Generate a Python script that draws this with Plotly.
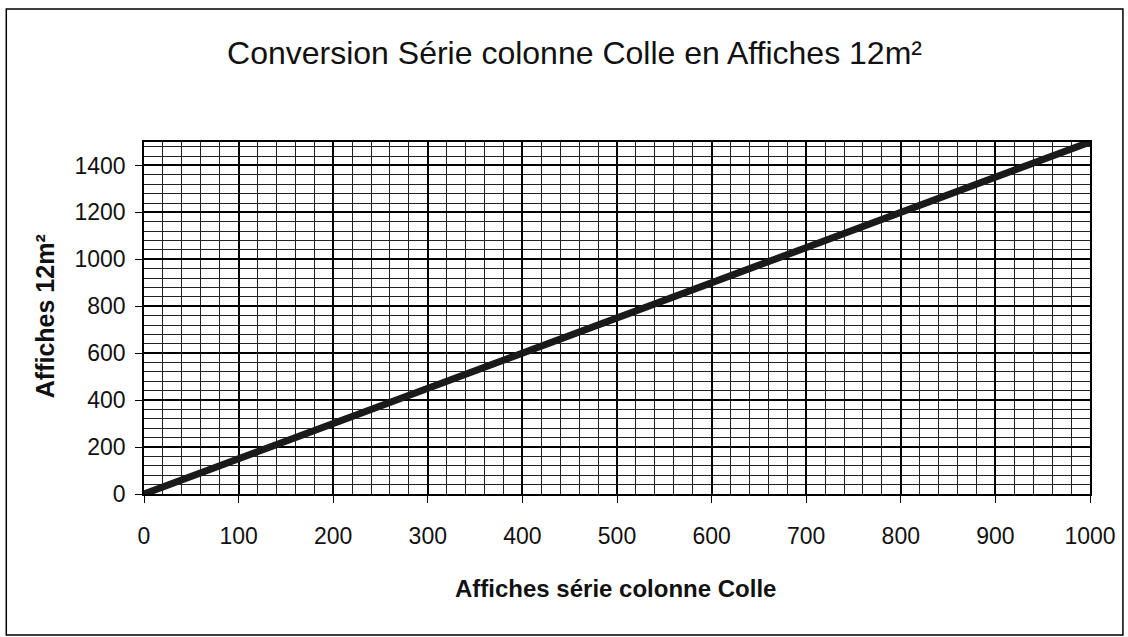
import plotly.graph_objects as go

# Conversion series: posters "série colonne Colle" -> 12 m² posters
affiches_colonne = [0, 1000]
affiches_12m2 = [0, 1500]

x_ticks = [0, 100, 200, 300, 400, 500, 600, 700, 800, 900, 1000]
y_ticks = [0, 200, 400, 600, 800, 1000, 1200, 1400]

W, H = 1128, 637
L, R, T, B = 144, 36, 142, 143
pw, ph = W - L - R, H - T - B

def px_to_paper(x, y):
    return (x - L) / pw, (H - B - y) / ph

tick_font = dict(family="Liberation Sans, Arial, sans-serif", size=23, color="#111")

fig = go.Figure()
fig.add_trace(go.Scatter(
    x=affiches_colonne, y=affiches_12m2, mode="lines",
    line=dict(color="#1a1a1a", width=7), showlegend=False,
))

fig.update_xaxes(
    range=[0, 1000], tickvals=x_ticks, ticktext=[str(v) for v in x_ticks],
    showgrid=True, gridcolor="#000", gridwidth=1.5,
    minor=dict(dtick=20, showgrid=True, gridcolor="#222", gridwidth=1),
    showline=True, linecolor="#000", linewidth=1.5, mirror=True,
    ticks="outside", ticklen=7, tickcolor="#000",
    ticklabelstandoff=14, tickfont=tick_font, zeroline=False,
)
fig.update_yaxes(
    range=[0, 1500], tickvals=y_ticks, ticktext=[str(v) for v in y_ticks],
    showgrid=True, gridcolor="#000", gridwidth=1.5,
    minor=dict(dtick=40, tick0=0, showgrid=True, gridcolor="#222", gridwidth=1),
    showline=True, linecolor="#000", linewidth=1.5, mirror=True,
    ticks="outside", ticklen=7, tickcolor="#000",
    ticklabelstandoff=5, tickfont=tick_font, zeroline=False,
)

# Outer frame of the whole chart
x0, y0 = px_to_paper(6, 9)
x1, y1 = px_to_paper(1125, 635)
fig.add_shape(type="rect", xref="paper", yref="paper",
              x0=x0, y0=y1, x1=x1, y1=y0,
              line=dict(color="#000", width=1.5), layer="above")

# Axis titles
ax, ay = px_to_paper(616, 588)
fig.add_annotation(x=ax, y=ay, xref="paper", yref="paper", showarrow=False,
                   text="<b>Affiches série colonne Colle</b>",
                   font=dict(family="Liberation Sans, Arial, sans-serif", size=24, color="#111"),
                   xanchor="center", yanchor="middle")
bx, by = px_to_paper(45, 316)
fig.add_annotation(x=bx, y=by, xref="paper", yref="paper", showarrow=False,
                   text="<b>Affiches 12m²</b>", textangle=-90,
                   font=dict(family="Liberation Sans, Arial, sans-serif", size=25, color="#111"),
                   xanchor="center", yanchor="middle")

fig.update_layout(
    width=W, height=H,
    margin=dict(l=L, r=R, t=T, b=B, pad=0),
    paper_bgcolor="white", plot_bgcolor="white",
    title=dict(text="Conversion Série colonne Colle en Affiches 12m²",
               x=574.5 / W, xanchor="center", xref="container",
               y=1 - 53 / H, yanchor="middle", yref="container",
               font=dict(family="Liberation Sans, Arial, sans-serif", size=32, color="#111")),
)

fig.write_html("out.html")
